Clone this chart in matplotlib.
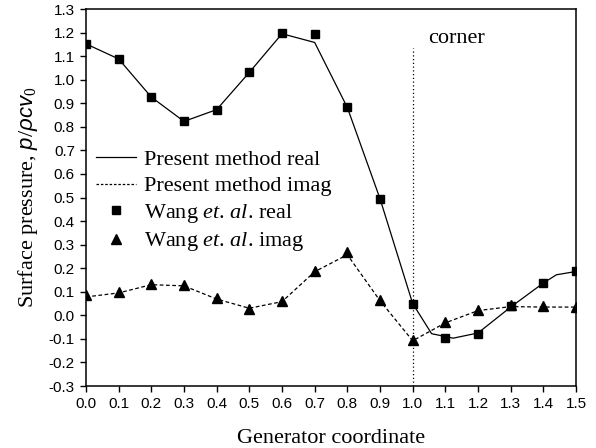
import matplotlib
matplotlib.use("Agg")
import matplotlib.pyplot as plt
from matplotlib.lines import Line2D

plt.rcParams["mathtext.fontset"] = "custom"
plt.rcParams["mathtext.it"] = "Liberation Sans:italic"
plt.rcParams["mathtext.rm"] = "Liberation Serif"
plt.rcParams["mathtext.cal"] = "Liberation Serif:italic"  # used for "et. al."

# Wang et. al. (symbols)
x_wang = [0.0, 0.1, 0.2, 0.3, 0.4, 0.5, 0.6, 0.7, 0.8, 0.9, 1.0, 1.1, 1.2, 1.3, 1.4, 1.5]
wang_real = [1.152, 1.088, 0.926, 0.823, 0.873, 1.031, 1.198, 1.193, 0.882, 0.495,
             0.05, -0.095, -0.078, 0.04, 0.137, 0.186]
wang_imag = [0.085, 0.10, 0.135, 0.128, 0.073, 0.028, 0.06, 0.19, 0.267, 0.063,
             -0.104, -0.03, 0.022, 0.045, 0.038, 0.035]

# present method (lines)
x_real = [0.0, 0.1, 0.2, 0.3, 0.4, 0.5, 0.6, 0.7, 0.8, 0.9, 1.0,
          1.058, 1.124, 1.2, 1.3, 1.4, 1.44, 1.5]
pres_real = [1.152, 1.088, 0.926, 0.823, 0.873, 1.031, 1.195, 1.158, 0.882, 0.495, 0.05,
             -0.078, -0.097, -0.075, 0.035, 0.137, 0.172, 0.186]
x_imag = [0.0, 0.1, 0.2, 0.3, 0.4, 0.5, 0.6, 0.7, 0.8, 0.9, 1.0, 1.1, 1.2, 1.3, 1.4, 1.5]
pres_imag = [0.078, 0.095, 0.13, 0.125, 0.069, 0.03, 0.058, 0.185, 0.257, 0.062,
             -0.108, -0.032, 0.02, 0.037, 0.035, 0.035]

xticks = [0.0, 0.1, 0.2, 0.3, 0.4, 0.5, 0.6, 0.7, 0.8, 0.9, 1.0, 1.1, 1.2, 1.3, 1.4, 1.5]
yticks = [-0.3, -0.2, -0.1, 0.0, 0.1, 0.2, 0.3, 0.4, 0.5, 0.6, 0.7, 0.8, 0.9,
          1.0, 1.1, 1.2, 1.3]

fig = plt.figure(figsize=(5.96, 4.48), dpi=100)
ax = fig.add_axes([86 / 596, 1 - 386 / 448, 490 / 596, 377 / 448])

ax.plot(x_real, pres_real, "-", color="black", lw=0.9)
ax.plot(x_imag, pres_imag, "--", color="black", lw=0.9, dashes=(3, 2))
ax.plot(x_wang, wang_real, "s", color="black", ms=5.5)
ax.plot(x_wang, wang_imag, "^", color="black", ms=6.5)

ax.vlines(1.0, -0.3, 1.135, colors="black", linestyles=(0, (1, 2)), lw=0.9)
ax.text(1.047, 1.175, "corner", fontsize=16, family="Liberation Serif", va="center")

ax.set_xlim(0.0, 1.5)
ax.set_ylim(-0.3, 1.3)
ax.set_xticks(xticks)
ax.set_yticks(yticks)
ax.set_xticklabels([f"{v:.1f}" for v in xticks], family="Liberation Sans", fontsize=11)
ax.set_yticklabels([f"{v:.1f}" for v in yticks], family="Liberation Sans", fontsize=11)
ax.tick_params(direction="out", length=4, width=1, top=False, right=False, pad=4)
for s in ax.spines.values():
    s.set_linewidth(1.1)

ax.set_xlabel("Generator coordinate", family="Liberation Serif", fontsize=16, labelpad=13)
ax.set_ylabel(r"Surface pressure, $p/\rho cv_0$", family="Liberation Serif",
              fontsize=16, labelpad=6)

handles = [
    Line2D([], [], ls="-", color="black", lw=0.9),
    Line2D([], [], ls="--", color="black", lw=0.9, dashes=(2, 1.5)),
    Line2D([], [], ls="", marker="s", color="black", ms=5.5),
    Line2D([], [], ls="", marker="^", color="black", ms=6.5),
]
labels = [
    "Present method real",
    "Present method imag",
    r"Wang $\mathcal{et}$. $\mathcal{al}$. real",
    r"Wang $\mathcal{et}$. $\mathcal{al}$. imag",
]
leg = ax.legend(handles, labels, loc="upper left", bbox_to_anchor=(0.02, 0.627),
                frameon=False, borderpad=0, borderaxespad=0, handlelength=1.8,
                handletextpad=0.35, labelspacing=0.25,
                prop={"family": "Liberation Serif", "size": 16})

fig.savefig("out.png", dpi=100)
